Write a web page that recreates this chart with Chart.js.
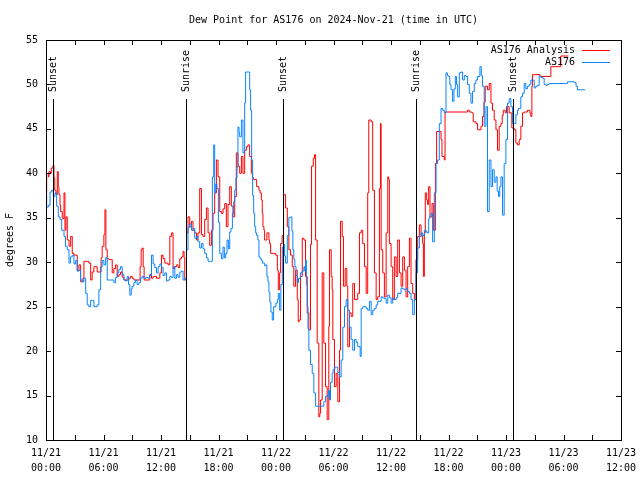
<!DOCTYPE html>
<html>
<head>
<meta charset="utf-8">
<title>Dew Point for AS176</title>
<script src="https://cdn.jsdelivr.net/npm/chart.js@4.4.1/dist/chart.umd.min.js"></script>
<style>
  html, body { margin: 0; padding: 0; background: #fff; }
  canvas { display: block; }
</style>
</head>
<body>
<canvas id="dewChart" width="640" height="480"></canvas>
<script>
// hours since 11/21 00:00 UTC, dew point in degrees F
const analysisSeries = [
  [0.00,37.8],[0.07,40.0],[0.24,39.6],[0.31,40.2],[0.47,40.0],[0.55,40.6],[0.73,40.9],[0.83,39.5],
  [0.91,38.1],[1.04,37.6],[1.18,40.2],[1.28,38.5],[1.35,37.6],[1.46,36.4],[1.53,35.7],[1.70,34.9],
  [1.88,37.8],[1.98,33.6],[2.08,35.1],[2.22,32.5],[2.40,31.8],[2.57,32.9],[2.74,31.0],[2.92,30.8],
  [3.26,29.1],[3.44,29.7],[3.61,27.8],[3.85,28.2],[3.96,30.1],[4.30,30.1],[4.48,29.9],[4.66,28.0],
  [4.82,28.9],[5.00,29.5],[5.34,28.9],[5.63,28.9],[5.75,30.5],[5.86,31.8],[6.04,33.1],[6.15,35.9],
  [6.25,31.4],[6.39,30.4],[6.56,30.3],[6.74,30.3],[6.91,28.8],[7.08,29.3],[7.26,29.7],[7.43,28.4],
  [7.60,28.6],[7.78,28.9],[7.95,28.3],[8.13,28.0],[8.65,28.2],[8.82,28.4],[8.99,28.2],[9.17,28.0],
  [9.82,29.5],[9.93,31.4],[10.03,31.6],[10.14,29.5],[10.24,28.0],[10.83,28.6],[11.01,28.2],[11.18,28.4],
  [11.53,28.2],[11.88,28.8],[12.05,30.8],[12.22,30.4],[12.40,29.9],[12.74,29.7],[12.92,32.9],[13.09,33.3],
  [13.26,29.3],[13.44,29.5],[13.61,29.7],[13.78,29.4],[13.96,30.4],[14.14,30.6],[14.30,31.2],[14.41,30.5],
  [14.48,28.0],[14.66,33.3],[14.82,35.1],[15.00,34.0],[15.18,34.6],[15.34,33.6],[15.52,33.3],[15.70,32.5],
  [15.86,33.3],[16.04,38.3],[16.22,33.1],[16.39,32.9],[16.56,34.8],[16.74,36.1],[16.91,33.3],[17.08,31.9],
  [17.26,33.6],[17.43,35.5],[17.60,37.8],[17.78,41.5],[17.95,39.6],[18.13,35.7],[18.30,35.5],[18.47,36.0],
  [18.65,36.6],[18.82,34.0],[18.99,36.5],[19.17,38.5],[19.34,36.3],[19.51,35.1],[19.69,37.4],[19.86,42.3],
  [20.03,40.8],[20.21,40.0],[20.39,41.9],[20.55,40.0],[20.73,42.6],[20.91,43.0],[21.07,43.2],[21.25,41.9],
  [21.43,40.0],[21.56,39.5],[21.67,39.3],[21.98,38.5],[22.22,38.1],[22.34,37.8],[22.47,37.0],[22.57,35.5],
  [22.64,34.0],[22.74,33.6],[22.81,32.5],[23.05,33.3],[23.26,32.5],[23.33,32.1],[23.44,31.0],[23.96,30.8],
  [24.14,29.1],[24.24,26.9],[24.38,28.8],[24.48,32.1],[24.64,33.0],[24.79,37.6],[25.00,36.1],[25.18,34.0],
  [25.34,31.4],[25.52,30.8],[25.70,29.5],[25.86,27.3],[26.04,29.1],[26.22,25.8],[26.32,23.3],[26.41,23.5],
  [26.56,28.4],[26.74,32.7],[26.91,32.5],[27.08,28.4],[27.26,24.3],[27.43,22.4],[27.60,32.0],[27.71,40.8],
  [27.89,41.7],[28.02,42.1],[28.13,32.5],[28.30,20.9],[28.47,12.6],[28.57,13.0],[28.65,14.5],[28.82,28.8],
  [28.99,20.9],[29.17,16.0],[29.34,12.3],[29.51,22.8],[29.58,31.4],[29.76,28.4],[29.86,26.9],[29.93,21.3],
  [30.10,16.0],[30.28,17.5],[30.45,14.3],[30.63,20.1],[30.73,34.6],[30.91,32.9],[31.04,27.3],[31.22,29.3],
  [31.39,27.3],[31.49,20.5],[31.67,24.3],[31.84,23.9],[32.01,27.6],[32.19,25.8],[32.53,26.5],[32.71,33.3],
  [32.89,33.6],[33.05,32.1],[33.23,29.5],[33.41,26.5],[33.57,37.8],[33.68,46.0],[33.93,45.8],[34.09,38.1],
  [34.27,28.8],[34.45,25.8],[34.61,26.1],[34.79,38.3],[34.90,45.6],[34.97,31.4],[35.14,28.8],[35.31,26.1],
  [35.49,33.3],[35.66,39.6],[35.76,39.3],[35.83,32.1],[36.01,29.5],[36.18,25.8],[36.35,30.6],[36.53,28.4],
  [36.70,32.5],[36.88,28.8],[37.05,27.3],[37.22,30.6],[37.40,29.1],[37.57,26.1],[37.74,29.5],[37.92,32.7],
  [38.09,27.6],[38.26,26.5],[38.44,25.8],[38.61,30.3],[38.78,32.9],[38.96,34.2],[39.14,33.0],[39.30,32.1],
  [39.38,28.4],[39.48,33.3],[39.58,37.8],[39.72,37.0],[39.82,36.5],[39.93,38.5],[40.07,35.1],[40.28,36.6],
  [40.42,33.6],[40.63,41.1],[40.76,44.7],[41.22,43.8],[41.32,41.9],[41.56,41.5],[41.64,46.9],[43.99,47.1],
  [44.17,46.9],[44.45,46.8],[44.58,45.8],[44.86,45.6],[45.03,44.9],[45.39,45.3],[45.55,46.4],[45.70,48.0],
  [45.83,49.8],[46.07,49.4],[46.25,50.1],[46.43,47.9],[46.59,47.1],[46.77,46.0],[46.95,44.9],[47.11,42.6],
  [47.29,45.3],[47.47,45.6],[47.60,46.5],[47.71,47.1],[47.92,46.8],[48.05,47.5],[48.33,46.8],[48.61,45.1],
  [48.85,44.9],[49.03,43.4],[49.20,43.2],[49.38,43.8],[49.55,45.3],[49.72,46.8],[49.90,46.9],[50.24,47.1],
  [50.49,46.8],[50.59,46.4],[50.70,49.8],[50.76,51.1],[51.56,50.9],[52.68,52.0],[53.72,53.2],[54.51,53.2]
];

const stationSeries = [
  [0.00,37.5],[0.07,36.2],[0.24,36.4],[0.42,37.9],[0.59,38.1],[0.76,37.4],[0.94,37.8],[1.11,36.3],
  [1.28,35.1],[1.46,34.8],[1.64,33.6],[1.88,32.9],[2.03,31.8],[2.22,31.4],[2.40,29.9],[2.55,30.6],
  [2.74,30.8],[2.92,29.8],[3.09,30.2],[3.26,29.0],[3.44,29.1],[3.61,28.0],[3.78,27.8],[3.96,28.2],
  [4.14,26.5],[4.30,25.2],[4.48,25.0],[4.66,25.7],[4.82,25.7],[5.00,25.0],[5.34,25.2],[5.52,26.9],
  [5.70,29.5],[5.86,30.2],[6.04,29.7],[6.22,30.5],[6.39,28.0],[6.74,28.0],[7.08,27.7],[7.26,28.3],
  [7.43,28.8],[7.60,29.2],[7.78,29.5],[7.95,28.6],[8.13,28.0],[8.30,27.9],[8.47,28.4],[8.61,27.5],
  [8.75,26.3],[8.89,27.0],[8.99,27.3],[9.17,27.7],[9.34,28.0],[9.51,27.5],[9.69,27.7],[9.86,28.2],
  [10.03,28.4],[10.21,28.2],[10.42,28.3],[10.66,28.2],[10.83,28.5],[11.01,30.8],[11.18,29.8],[11.35,29.4],
  [11.53,28.8],[11.70,29.5],[11.88,29.8],[12.05,29.4],[12.22,28.5],[12.40,28.8],[12.57,27.9],[12.74,28.0],
  [12.92,28.4],[13.09,28.3],[13.26,29.5],[13.44,28.2],[13.61,28.6],[13.78,28.3],[13.96,28.9],[14.14,29.0],
  [14.30,28.0],[14.48,28.2],[14.66,31.4],[14.82,33.9],[15.00,34.3],[15.18,33.6],[15.34,33.8],[15.52,32.7],
  [15.70,32.9],[15.86,32.3],[16.04,31.6],[16.22,32.1],[16.39,31.5],[16.56,31.0],[16.74,30.5],[16.91,30.1],
  [17.16,30.1],[17.36,39.6],[17.50,43.2],[17.60,37.8],[17.71,38.8],[17.84,38.3],[17.99,34.5],[18.13,31.0],
  [18.30,30.4],[18.47,31.7],[18.61,30.5],[18.75,31.0],[18.89,32.5],[19.03,31.5],[19.17,33.4],[19.30,33.8],
  [19.45,35.5],[19.58,36.8],[19.69,38.1],[19.82,39.5],[19.93,40.7],[20.03,45.2],[20.14,44.6],[20.21,44.1],
  [20.39,46.0],[20.55,42.3],[20.73,47.9],[20.83,51.4],[21.15,51.4],[21.25,49.4],[21.35,47.1],[21.46,41.5],
  [21.56,37.5],[21.67,35.5],[21.77,34.0],[21.88,33.3],[21.98,33.0],[22.11,32.5],[22.22,30.6],[22.34,30.4],
  [22.47,30.2],[22.60,29.9],[22.81,29.6],[22.92,29.7],[23.05,28.4],[23.16,27.8],[23.26,26.6],[23.36,25.5],
  [23.47,24.4],[23.61,23.5],[23.75,25.0],[23.99,25.4],[24.14,25.8],[24.24,26.5],[24.38,24.6],[24.51,27.5],
  [24.66,31.7],[24.79,32.0],[24.90,30.7],[25.00,29.9],[25.18,33.0],[25.34,35.0],[25.52,35.1],[25.66,33.5],
  [25.76,31.4],[25.86,30.3],[25.97,29.5],[26.09,28.5],[26.22,27.7],[26.35,28.2],[26.56,28.8],[26.74,29.0],
  [26.91,29.5],[27.01,29.0],[27.08,30.2],[27.17,27.5],[27.26,25.0],[27.34,22.5],[27.43,20.1],[27.60,18.5],
  [27.78,17.5],[27.95,15.3],[28.13,13.8],[28.82,13.8],[28.99,14.3],[29.17,14.9],[29.34,15.0],[29.51,15.6],
  [29.58,14.5],[29.69,16.5],[29.86,17.5],[29.95,17.9],[30.14,18.2],[30.28,18.2],[30.45,17.6],[30.63,17.1],
  [30.80,19.0],[30.97,22.7],[31.15,25.0],[31.32,25.8],[31.49,24.6],[31.67,22.7],[31.84,21.3],[32.01,20.1],
  [32.19,21.3],[32.36,21.0],[32.53,20.5],[32.78,19.4],[32.89,24.8],[33.05,25.0],[33.41,24.8],[33.57,24.6],
  [33.75,25.6],[33.93,24.1],[34.09,24.6],[34.27,24.8],[34.45,25.2],[34.61,25.6],[34.97,26.1],[35.14,26.0],
  [35.31,25.9],[35.49,25.4],[35.66,26.3],[35.83,26.0],[36.01,25.4],[36.18,25.9],[36.35,25.8],[36.53,26.0],
  [36.70,26.5],[37.05,27.1],[37.22,27.0],[37.40,26.9],[37.57,27.0],[37.74,26.7],[37.92,26.5],[38.09,25.8],
  [38.26,24.1],[38.44,25.8],[38.61,28.8],[38.78,31.6],[38.96,32.9],[39.14,33.3],[39.30,33.0],[39.48,33.6],
  [39.66,33.4],[39.82,33.3],[39.93,34.9],[40.05,35.2],[40.18,35.5],[40.34,32.3],[40.52,37.8],[40.70,41.1],
  [40.86,41.5],[41.04,45.6],[41.22,47.3],[41.39,47.1],[41.56,46.8],[41.74,51.3],[41.88,51.0],[42.01,50.9],
  [42.14,50.0],[42.26,49.4],[42.43,48.1],[42.57,49.5],[42.71,50.9],[42.83,50.0],[42.95,48.6],[43.13,51.3],
  [43.30,51.4],[43.47,50.5],[43.65,51.0],[43.82,50.9],[43.99,50.0],[44.17,49.0],[44.34,47.9],[44.51,49.2],
  [44.69,50.1],[44.86,50.5],[45.03,50.9],[45.28,52.0],[45.42,51.0],[45.55,49.8],[45.73,45.3],[45.91,47.5],
  [46.07,35.7],[46.25,41.5],[46.43,38.5],[46.59,40.4],[46.77,39.0],[46.95,39.6],[47.08,38.0],[47.22,37.4],
  [47.34,38.5],[47.47,39.6],[47.64,35.3],[47.81,41.1],[47.99,43.8],[48.16,47.9],[48.33,48.4],[48.51,47.5],
  [48.68,45.6],[48.85,45.6],[49.03,46.6],[49.20,47.1],[49.30,47.3],[49.55,48.6],[49.72,49.0],[49.90,50.1],
  [50.07,49.5],[50.24,49.8],[50.42,50.0],[50.59,50.5],[50.76,50.5],[50.94,49.6],[51.11,49.8],[51.28,49.9],
  [51.46,50.9],[51.64,50.8],[51.80,50.7],[51.98,50.0],[52.16,49.9],[52.32,50.0],[52.50,50.1],[54.24,50.1],
  [54.41,50.3],[55.10,50.2],[55.31,49.8],[55.45,49.4],[56.25,49.4]
];

const sunHours = [0.73, 14.58, 24.74, 38.57, 48.68];
const sunLabels = ['Sunset', 'Sunrise', 'Sunset', 'Sunrise', 'Sunset'];

const xTickHours = [0, 6, 12, 18, 24, 30, 36, 42, 48, 54, 60];
const xTickLabels = [
  ['11/21', '00:00'], ['11/21', '06:00'], ['11/21', '12:00'], ['11/21', '18:00'],
  ['11/22', '00:00'], ['11/22', '06:00'], ['11/22', '12:00'], ['11/22', '18:00'],
  ['11/23', '00:00'], ['11/23', '06:00'], ['11/23', '12:00']
];

const seriesNames = ['AS176 Analysis', 'AS176'];
const seriesColors = ['#ff0000', '#0a84ff'];

const FONT = '"DejaVu Sans Mono", "Liberation Mono", monospace';

function toPoints(series) {
    return series.map(p => ({ x: p[0], y: p[1] }));
}

// gnuplot style frame: inward ticks on all four sides, sun markers, legend, title
const gnuplotFrame = {
    id: 'gnuplotFrame',
    afterDatasetsDraw(chart) {
        const ctx = chart.ctx;
        const area = chart.chartArea;
        const xs = chart.scales.x;
        const ys = chart.scales.y;
        const tick = 5;

        ctx.save();
        ctx.strokeStyle = '#000';
        ctx.lineWidth = 1;

        ctx.beginPath();
        for (let v = 10; v <= 55; v += 5) {
            const y = Math.round(ys.getPixelForValue(v)) + 0.5;
            ctx.moveTo(area.left, y); ctx.lineTo(area.left + tick, y);
            ctx.moveTo(area.right, y); ctx.lineTo(area.right - tick, y);
        }
        for (let h = 0; h <= 60; h += 3) {
            const x = Math.round(xs.getPixelForValue(h)) + 0.5;
            ctx.moveTo(x, area.bottom); ctx.lineTo(x, area.bottom - tick);
            ctx.moveTo(x, area.top); ctx.lineTo(x, area.top + tick);
        }
        ctx.stroke();

        ctx.strokeRect(Math.round(area.left) + 0.5, Math.round(area.top) + 0.5,
            Math.round(area.right - area.left), Math.round(area.bottom - area.top));

        // sunrise / sunset markers
        ctx.font = '10px ' + FONT;
        ctx.fillStyle = '#000';
        sunHours.forEach((h, i) => {
            const x = Math.round(xs.getPixelForValue(h)) + 0.5;
            ctx.beginPath();
            ctx.moveTo(x, 99);
            ctx.lineTo(x, area.bottom);
            ctx.stroke();
            ctx.save();
            ctx.translate(x, 92);
            ctx.rotate(-Math.PI / 2);
            ctx.textAlign = 'left';
            ctx.textBaseline = 'middle';
            ctx.fillText(sunLabels[i], 0, 0);
            ctx.restore();
        });

        // legend
        ctx.textAlign = 'right';
        ctx.textBaseline = 'middle';
        seriesNames.forEach((name, i) => {
            const y = 50.5 + i * 12;
            ctx.fillStyle = '#000';
            ctx.fillText(name, 575, y);
            ctx.strokeStyle = seriesColors[i];
            ctx.beginPath();
            ctx.moveTo(582, y);
            ctx.lineTo(610, y);
            ctx.stroke();
        });

        // title
        ctx.fillStyle = '#000';
        ctx.textAlign = 'center';
        ctx.fillText('Dew Point for AS176 on 2024-Nov-21 (time in UTC)', (area.left + area.right) / 2, 20);
        ctx.restore();
    }
};

new Chart(document.getElementById('dewChart'), {
    type: 'line',
    data: {
        datasets: [
            {
                label: seriesNames[0],
                data: toPoints(analysisSeries),
                borderColor: seriesColors[0],
                borderWidth: 1,
                stepped: true,
                pointRadius: 0,
                fill: false,
                order: 2
            },
            {
                label: seriesNames[1],
                data: toPoints(stationSeries),
                borderColor: seriesColors[1],
                borderWidth: 1,
                stepped: true,
                pointRadius: 0,
                fill: false,
                order: 1
            }
        ]
    },
    options: {
        responsive: false,
        animation: false,
        layout: {
            padding: { top: 40, right: 19, left: 0, bottom: 0 }
        },
        plugins: {
            legend: { display: false },
            tooltip: { enabled: false }
        },
        scales: {
            x: {
                type: 'linear',
                min: 0,
                max: 60,
                afterFit: s => {
                    s.height = 40;
                    s.paddingLeft = 0;
                    s.paddingRight = 0;
                },
                afterBuildTicks: s => { s.ticks = xTickHours.map(v => ({ value: v })); },
                grid: { display: false, drawTicks: false },
                border: { display: false },
                ticks: {
                    autoSkip: false,
                    maxRotation: 0,
                    padding: 6,
                    color: '#000',
                    font: { family: FONT, size: 10, lineHeight: 1.5 },
                    callback: value => {
                        const i = xTickHours.indexOf(value);
                        return i >= 0 ? xTickLabels[i] : '';
                    }
                }
            },
            y: {
                min: 10,
                max: 55,
                afterFit: s => {
                    s.width = 46;
                    s.paddingTop = 0;
                    s.paddingBottom = 0;
                },
                grid: { display: false, drawTicks: false },
                border: { display: false },
                ticks: {
                    stepSize: 5,
                    padding: 8,
                    color: '#000',
                    font: { family: FONT, size: 10 }
                },
                title: {
                    display: true,
                    text: 'degrees F',
                    color: '#000',
                    padding: { top: 4, bottom: 0 },
                    font: { family: FONT, size: 10 }
                }
            }
        }
    },
    plugins: [gnuplotFrame]
});
</script>
</body>
</html>
